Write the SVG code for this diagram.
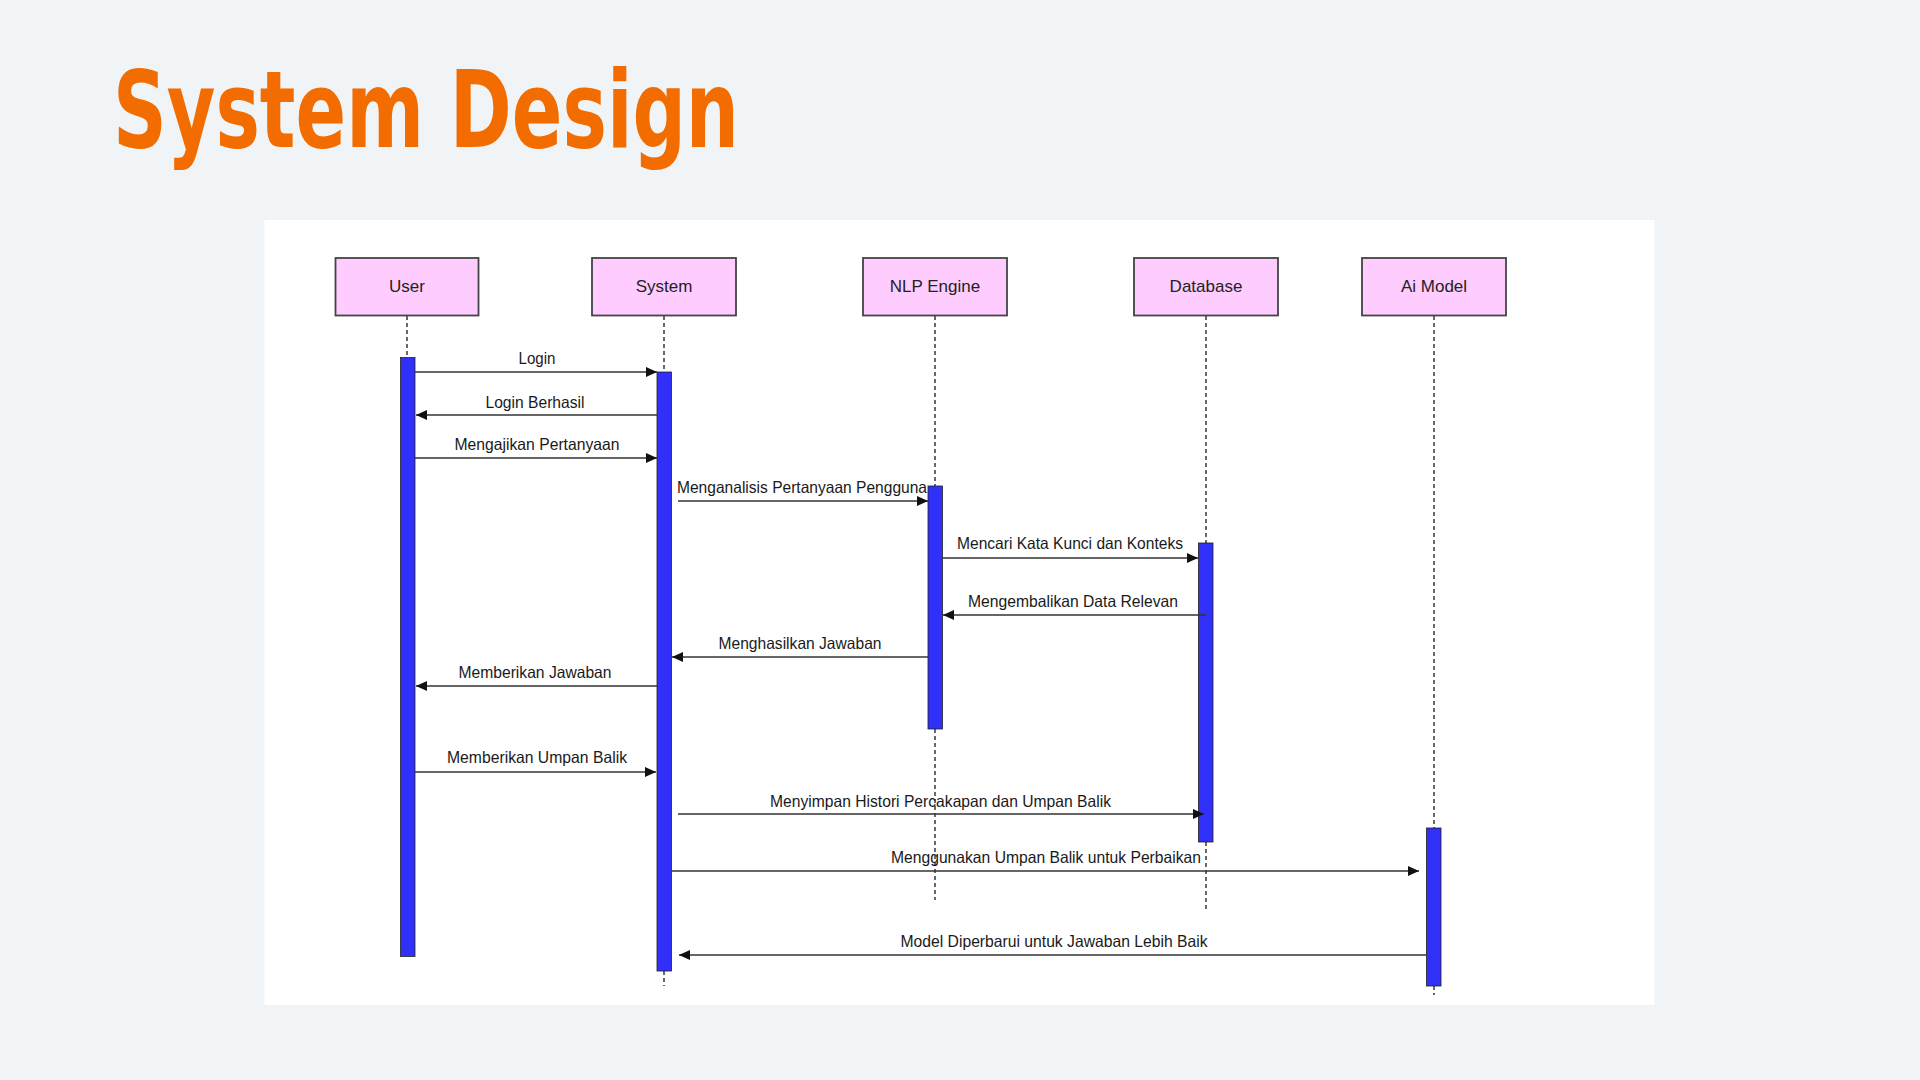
<svg xmlns="http://www.w3.org/2000/svg" width="1920" height="1080" viewBox="0 0 1920 1080">
<style>
.hdr{fill:#FFCCFF;stroke:#444;stroke-width:1.8}
.hdrt{font-family:"Liberation Sans",Arial,sans-serif;font-size:17px;fill:#222;text-anchor:middle}
.bar{fill:#3030F8;stroke:#222;stroke-width:0.8}
.life{stroke:#444;stroke-width:1.6;stroke-dasharray:4 3;fill:none}
.msg{stroke:#333;stroke-width:1.6;fill:none;marker-end:url(#ah)}
.lbl{font-family:"Liberation Sans",Arial,sans-serif;font-size:16.5px;fill:#1a1a1a;text-anchor:middle}
</style>
<defs>
<marker id="ah" markerUnits="userSpaceOnUse" markerWidth="12" markerHeight="12" viewBox="0 0 12 12" refX="11" refY="6" orient="auto">
<path d="M0,1 L11,6 L0,11 z" fill="#111"/>
</marker>
</defs>
<rect width="1920" height="1080" fill="#F0F4F7"/>
<text x="113" y="147" font-family="'Liberation Sans Narrow','DejaVu Sans Condensed','Liberation Sans',sans-serif" font-weight="bold" font-size="107" fill="#F36C00" textLength="626" lengthAdjust="spacingAndGlyphs">System Design</text>
<rect x="264.5" y="220" width="1390" height="785" fill="#FFFFFF"/>

<g id="lifelines">
<path class="life" d="M407,316 V357"/>
<path class="life" d="M664,316 V372 M664,971 V986"/>
<path class="life" d="M935,316 V486 M935,729 V900"/>
<path class="life" d="M1206,316 V543 M1206,842 V910"/>
<path class="life" d="M1434,316 V828 M1434,986 V995"/>
</g>

<g id="node-user">
<rect class="hdr" x="335.5" y="258" width="143" height="57.5"/>
<text class="hdrt" x="407" y="292">User</text>
<rect class="bar" x="400.5" y="357.5" width="14.5" height="599"/>
</g>
<g id="node-system">
<rect class="hdr" x="592" y="258" width="144" height="57.5"/>
<text class="hdrt" x="664" y="292">System</text>
<rect class="bar" x="657" y="372" width="14.5" height="599"/>
</g>
<g id="node-nlp">
<rect class="hdr" x="863" y="258" width="144" height="57.5"/>
<text class="hdrt" x="935" y="292">NLP Engine</text>
<rect class="bar" x="928" y="486" width="14.5" height="243"/>
</g>
<g id="node-database">
<rect class="hdr" x="1134" y="258" width="144" height="57.5"/>
<text class="hdrt" x="1206" y="292">Database</text>
<rect class="bar" x="1198.5" y="543" width="14.5" height="299"/>
</g>
<g id="node-aimodel">
<rect class="hdr" x="1362" y="258" width="144" height="57.5"/>
<text class="hdrt" x="1434" y="292">Ai Model</text>
<rect class="bar" x="1426.5" y="828" width="14.5" height="158"/>
</g>

<g id="connectors">
<line class="msg" x1="415" y1="372" x2="657" y2="372"/>
<text class="lbl" x="537" y="364" textLength="37" lengthAdjust="spacingAndGlyphs">Login</text>
<line class="msg" x1="657" y1="415" x2="416" y2="415"/>
<text class="lbl" x="535" y="408" textLength="99" lengthAdjust="spacingAndGlyphs">Login Berhasil</text>
<line class="msg" x1="415" y1="458" x2="657" y2="458"/>
<text class="lbl" x="537" y="450" textLength="165" lengthAdjust="spacingAndGlyphs">Mengajikan Pertanyaan</text>
<line class="msg" x1="678" y1="501" x2="928" y2="501"/>
<text class="lbl" x="802" y="493" textLength="250" lengthAdjust="spacingAndGlyphs">Menganalisis Pertanyaan Pengguna</text>
<line class="msg" x1="943" y1="558" x2="1198" y2="558"/>
<text class="lbl" x="1070" y="549" textLength="226" lengthAdjust="spacingAndGlyphs">Mencari Kata Kunci dan Konteks</text>
<line class="msg" x1="1206" y1="615" x2="943" y2="615"/>
<text class="lbl" x="1073" y="607" textLength="210" lengthAdjust="spacingAndGlyphs">Mengembalikan Data Relevan</text>
<line class="msg" x1="928" y1="657" x2="672" y2="657"/>
<text class="lbl" x="800" y="649" textLength="163" lengthAdjust="spacingAndGlyphs">Menghasilkan Jawaban</text>
<line class="msg" x1="657" y1="686" x2="416" y2="686"/>
<text class="lbl" x="535" y="678" textLength="153" lengthAdjust="spacingAndGlyphs">Memberikan Jawaban</text>
<line class="msg" x1="415" y1="772" x2="656" y2="772"/>
<text class="lbl" x="537" y="763" textLength="180" lengthAdjust="spacingAndGlyphs">Memberikan Umpan Balik</text>
<line class="msg" x1="678" y1="814" x2="1204" y2="814"/>
<text class="lbl" x="940.5" y="807" textLength="341" lengthAdjust="spacingAndGlyphs">Menyimpan Histori Percakapan dan Umpan Balik</text>
<line class="msg" x1="672" y1="871" x2="1419" y2="871"/>
<text class="lbl" x="1046" y="863" textLength="310" lengthAdjust="spacingAndGlyphs">Menggunakan Umpan Balik untuk Perbaikan</text>
<line class="msg" x1="1426" y1="955" x2="679" y2="955"/>
<text class="lbl" x="1054" y="947" textLength="307" lengthAdjust="spacingAndGlyphs">Model Diperbarui untuk Jawaban Lebih Baik</text>
</g>
</svg>
